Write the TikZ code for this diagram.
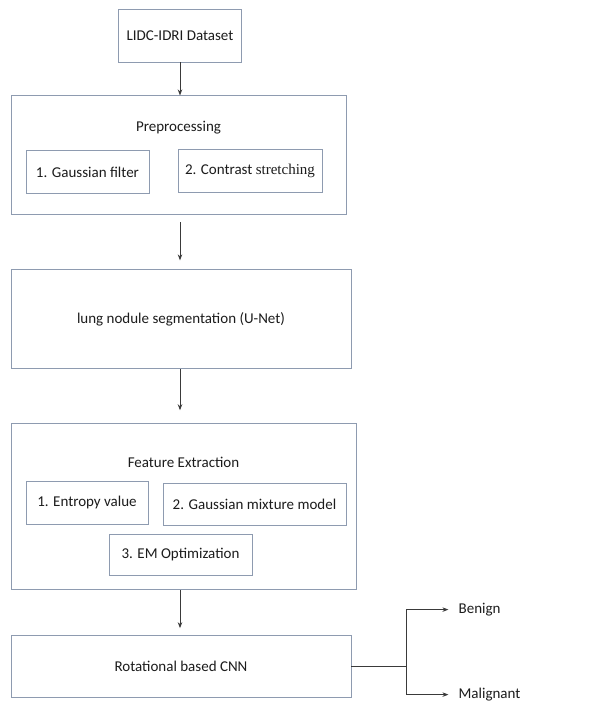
\documentclass[tikz,border=0pt]{standalone}
\usepackage{fontspec}
\setmainfont{Carlito}
\newfontfamily\stretchfont{Liberation Serif}
\usepackage{xcolor}
\usepackage{tikz}
\usetikzlibrary{arrows.meta,calc,positioning}
\definecolor{boxline}{HTML}{8E9BB0}
\definecolor{conn}{HTML}{3A3A3A}
\definecolor{ink}{HTML}{1C1C1C}
\tikzset{
  font=\fontsize{15pt}{18pt}\selectfont, text=ink,
  stage/.style={
    draw=boxline, line width=0.9pt, fill=white,
    inner sep=0pt, align=center
  },
  substep/.style={stage, line width=0.8pt},
  caption/.style={inner sep=0pt, align=center},
  outcome/.style={inner sep=0pt, anchor=west},
  flow/.style={-{Stealth[length=6pt,width=4.5pt]}, draw=conn, line width=0.8pt},
  branch/.style={draw=conn, line width=0.8pt}
}

\begin{document}
\begin{tikzpicture}[node distance=33pt]
  \useasboundingbox[fill=white] (0,0) rectangle (605pt,-716pt);

  \node[stage, minimum width=123pt, minimum height=53pt] (data) at (180pt,-35.5pt) {LIDC-IDRI Dataset};

  \node[stage, minimum width=335pt, minimum height=119pt, below=33pt of data, xshift=-1.5pt] (prep) {};
  \node[caption] (preptitle) at ($(prep.north)+(0,-32pt)$) {Preprocessing};
  \node[substep, minimum width=123pt, minimum height=43pt] (gauss) at ($(prep.north)+(-91pt,-76.5pt)$) {1. Gaussian filter};
  \node[substep, minimum width=144pt, minimum height=43pt] (contrast) at ($(prep.north)+(71.5pt,-75.5pt)$) {2. Contrast {\stretchfont stretching}};

  \node[stage, minimum width=340pt, minimum height=99pt, below=54pt of prep, xshift=2.5pt] (seg) {lung nodule segmentation (U-Net)};

  \node[stage, minimum width=345pt, minimum height=166pt, below=54pt of seg, xshift=2.5pt] (feat) {};
  \node[caption] (feattitle) at ($(feat.north)+(0,-39pt)$) {Feature Extraction};
  \node[substep, minimum width=122pt, minimum height=43pt] (entropy) at ($(feat.north)+(-96.5pt,-79.5pt)$) {1. Entropy value};
  \node[substep, minimum width=183pt, minimum height=42pt] (gmm) at ($(feat.north)+(71pt,-81pt)$) {2. Gaussian mixture model};
  \node[substep, minimum width=143pt, minimum height=41pt] (emopt) at ($(feat.north)+(-3pt,-131.5pt)$) {3. EM Optimization};

  \node[stage, minimum width=340pt, minimum height=62pt, below=45pt of feat, xshift=-2.5pt] (cnn) {Rotational based CNN};

  \coordinate[right=55pt of cnn.east] (fork);
  \node[outcome] (benign) at ($(fork)+(52pt,57pt)$) {Benign};
  \node[outcome] (malignant) at ($(fork)+(52pt,-28pt)$) {Malignant};

  % vertical flow, all on the dataset's axis
  \draw[flow] (data.south) -- (data.south |- prep.north);
  \draw[flow, shorten <=7pt, shorten >=9pt] (data.south |- prep.south) -- (data.south |- seg.north);
  \draw[flow, shorten >=13pt] (data.south |- seg.south) -- (data.south |- feat.north);
  \draw[flow, shorten >=7pt] (data.south |- feat.south) -- (data.south |- cnn.north);

  % classification
  \draw[branch] (cnn.east) -- (fork);
  \draw[flow, shorten >=10pt] (fork) |- (benign.west);
  \draw[flow, shorten >=10pt] (fork) |- (malignant.west);
\end{tikzpicture}
\end{document}
